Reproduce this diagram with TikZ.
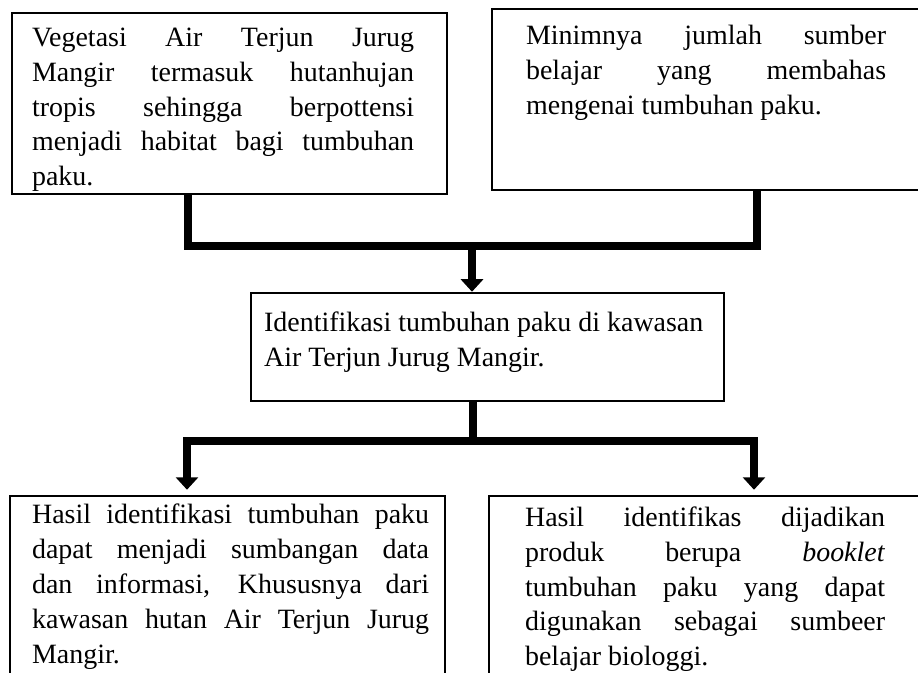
\documentclass[tikz,border=0pt]{standalone}
\usepackage{fontspec}
\setmainfont{Liberation Serif}
\usetikzlibrary{positioning}
\usetikzlibrary{arrows.meta}
\hyphenpenalty=10000
\exhyphenpenalty=10000

\begin{document}
\begin{tikzpicture}[>={Triangle[width=0.44cm,length=0.25cm]}, font=\fontsize{15.9pt}{19.8pt}\selectfont]
    \tikzstyle{box}=[draw=black, rectangle, line width=0.05cm, inner sep=0pt]
    \tikzstyle{txt}=[inner sep=0pt, align=justify, execute at begin node=\strut]
    \tikzstyle{bar}=[draw=black, line width=0.15cm]
    \tikzstyle{flow}=[bar, ->]

    \useasboundingbox (0,0) rectangle (18.36,-13.46);
    \clip (0,0) rectangle (18.36,-13.46);
    \fill[white] (0,0) rectangle (18.36,-13.46);

    % boxes
    \node[box, minimum width=8.70cm, minimum height=3.62cm] (veg) at (4.59,-2.07) {};
    \node[box, minimum width=9.06cm, minimum height=3.62cm] (minim) at (14.37,-1.99) {};
    \node[box, minimum width=9.46cm, minimum height=2.16cm] (ident) at (9.75,-6.94) {};
    \node[box, minimum width=8.70cm, minimum height=4.08cm] (hasil) at (4.55,-11.96) {};
    \node[box, minimum width=9.12cm, minimum height=4.08cm] (produk) at (14.34,-11.96) {};

    % texts
    \node[txt, text width=7.64cm, below right=0.20cm and 0.42cm of veg.north west] (vegtext)
        {Vegetasi Air Terjun Jurug\linebreak Mangir termasuk hutanhujan\linebreak tropis sehingga berpottensi\linebreak menjadi habitat bagi tumbuhan\linebreak paku.};
    \node[txt, text width=7.20cm, below right=0.25cm and 0.70cm of minim.north west] (mintext)
        {Minimnya jumlah sumber\linebreak belajar yang membahas\linebreak mengenai tumbuhan paku.};
    \node[txt, align=left, below right=0.40cm and 0.28cm of ident.north west] (identtext)
        {Identifikasi tumbuhan paku di kawasan\\ Air Terjun Jurug Mangir.};
    \node[txt, text width=7.94cm, below right=0.09cm and 0.46cm of hasil.north west] (hasiltext)
        {Hasil identifikasi tumbuhan paku\linebreak dapat menjadi sumbangan data\linebreak dan informasi, Khususnya dari\linebreak kawasan hutan Air Terjun Jurug\linebreak Mangir.};
    \node[txt, text width=7.20cm, below right=0.14cm and 0.74cm of produk.north west] (produktext)
        {Hasil identifikas dijadikan\linebreak produk berupa \textit{booklet}\linebreak tumbuhan paku yang dapat\linebreak digunakan sebagai sumbeer\linebreak belajar biologgi.};

    % connectors
    \coordinate (bus1) at (9.44,-4.92);
    \coordinate (bus1L) at (3.76,-4.92);
    \coordinate (bus1R) at (15.14,-4.92);
    \coordinate (bus2) at (9.46,-8.82);
    \coordinate (bus2L) at (3.74,-8.82);
    \coordinate (bus2R) at (15.08,-8.82);

    \draw[bar] (bus1L |- veg.south) -- (bus1L) -- (bus1R) -- (bus1R |- minim.south);
    \draw[flow] (bus1) -- (bus1 |- ident.north);
    \draw[bar] (bus2 |- ident.south) -- (bus2);
    \draw[flow, shorten >=0.1cm] (bus2) -| (bus2L |- hasil.north);
    \draw[flow, shorten >=0.1cm] (bus2) -| (bus2R |- produk.north);
\end{tikzpicture}
\end{document}
